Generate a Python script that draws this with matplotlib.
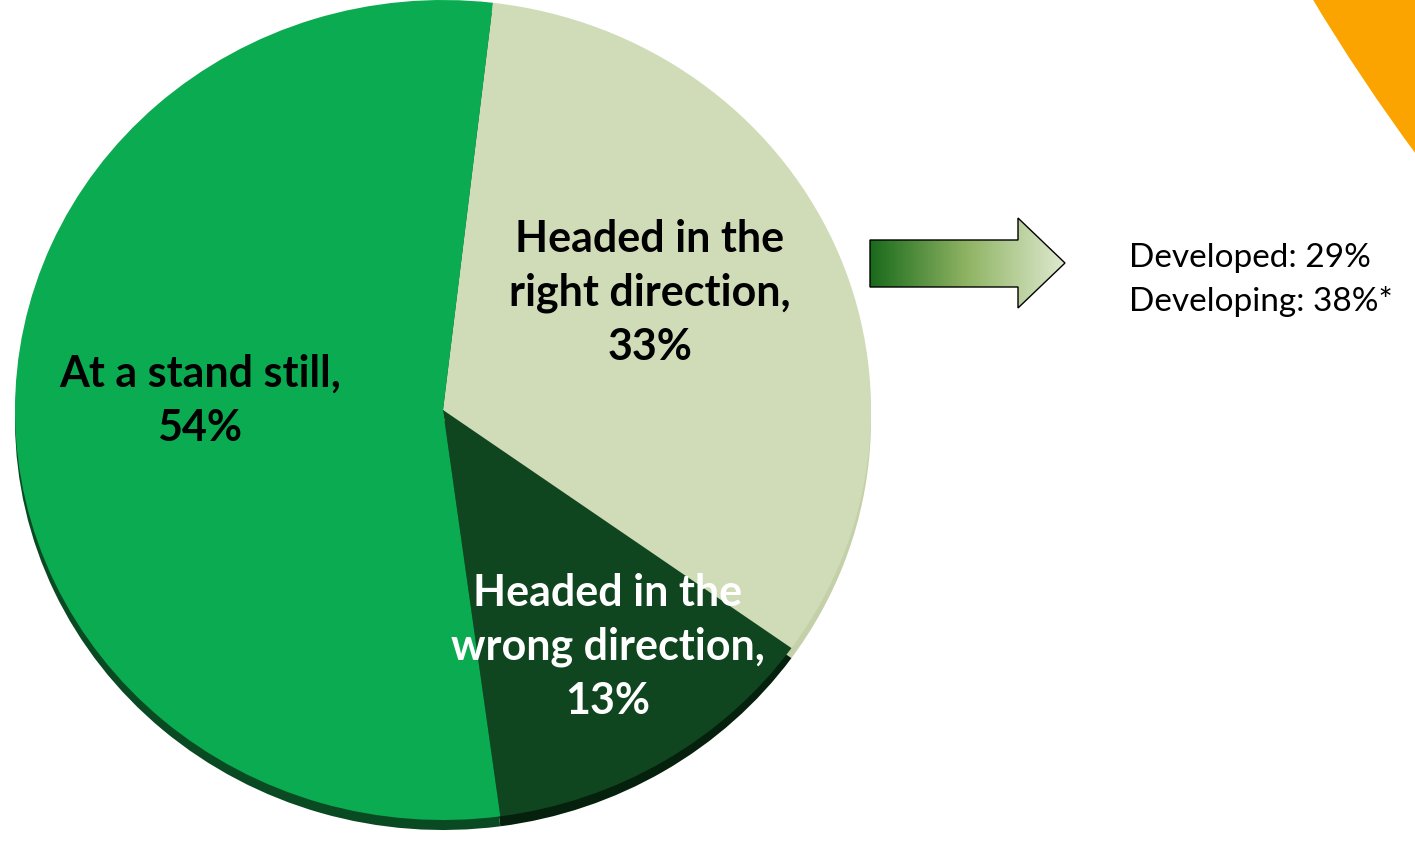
import numpy as np
import matplotlib.pyplot as plt
from matplotlib.patches import Polygon, Circle
from matplotlib.colors import LinearSegmentedColormap

# Data
labels = ["Headed in the\nright direction,\n33%",
          "Headed in the\nwrong direction,\n13%",
          "At a stand still,\n54%"]
values = [33, 13, 54]
colors = ["#d0dcb8", "#10461f", "#0bab52"]
rim_colors = ["#c4d0a8", "#05200c", "#094a22"]
text_colors = ["black", "white", "black"]
label_pos = [(650, 293), (608, 647), (200, 401)]

side_note = ["Developed: 29%", "Developing: 38%*"]

W, H = 1415, 841
fig = plt.figure(figsize=(W / 100, H / 100), dpi=100)


def pie_axes(x0, y0, x1, y1):
    ax = fig.add_axes([x0 / W, 1 - y1 / H, (x1 - x0) / W, (y1 - y0) / H])
    return ax


## 3D rim: same pie shifted down
rim = pie_axes(15, 10, 871, 830)
rim.pie(values, colors=rim_colors, startangle=83.3, counterclock=False,
        wedgeprops=dict(linewidth=0))
rim.set_aspect("auto")
rim.set_xlim(-1, 1)
rim.set_ylim(-1, 1)
rim.axis("off")

## main pie
ax = pie_axes(15, 0, 871, 820)
ax.pie(values, colors=colors, startangle=83.3, counterclock=False,
       wedgeprops=dict(linewidth=0))
ax.set_aspect("auto")
ax.set_xlim(-1, 1)
ax.set_ylim(-1, 1)
ax.axis("off")

# overlay axes in pixel coordinates (on top of the pie)
bg = fig.add_axes([0, 0, 1, 1])
bg.set_zorder(10)
bg.axis("off")

for lab, (x, y), c in zip(labels, label_pos, text_colors):
    bg.text(x, y, lab, ha="center", va="center", color=c, fontsize=31,
            fontweight="bold", family="Lato", linespacing=1.42, zorder=5)

## orange shape in the corner
bg.add_patch(Circle((3028, -1033), 2002, color="#fba400", lw=0, zorder=1))

## gradient arrow
arrow = Polygon([(870, 240), (1018, 240), (1018, 218), (1065, 263),
                 (1018, 308), (1018, 287), (870, 287)],
                closed=True, facecolor="none", edgecolor="black", lw=1.0, zorder=4)
bg.add_patch(arrow)
grad = np.linspace(0, 1, 256).reshape(1, -1)
cmap = LinearSegmentedColormap.from_list("g", ["#1a6a1c", "#8fb463", "#dfe9d0"])
im = bg.imshow(grad, extent=(870, 1065, 308, 218), cmap=cmap, aspect="auto", zorder=3)
im.set_clip_path(arrow)

bg.text(1129, 280, "\n".join(side_note), ha="left", va="center", fontsize=24,
        family="Lato", linespacing=1.5, color="black")

bg.set_xlim(0, W)
bg.set_ylim(H, 0)

fig.savefig("out.png", dpi=100)
